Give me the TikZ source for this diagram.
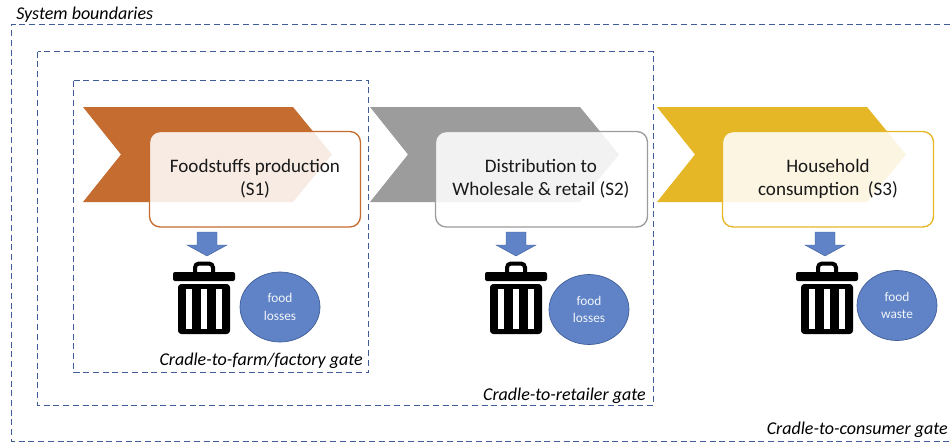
\documentclass[tikz,border=0pt]{standalone}
\usepackage{fontspec}
\setmainfont{Carlito}
\usetikzlibrary{shapes.geometric}
\definecolor{dashblue}{HTML}{3F5C98}
\definecolor{arrowblue}{HTML}{5F83C6}
\definecolor{orangeS}{HTML}{C56C30}
\definecolor{greyS}{HTML}{9C9C9C}
\definecolor{yellowS}{HTML}{E5B726}
\tikzset{
  gatebox/.style={draw=dashblue,line width=1.1pt,dash pattern=on 4.5pt off 2.8pt},
  stagebox/.style={draw=#1,line width=1pt,rounded corners=8pt,fill=white,fill opacity=0.87},
  stagetext/.style={font=\fontsize{14.3pt}{17.25pt}\selectfont,align=center,text=black!90},
  gatelabel/.style={font=\fontsize{13.5pt}{16pt}\selectfont\itshape,text=black,inner sep=0pt},
  lossnode/.style={ellipse,draw=dashblue,line width=0.5pt,fill=arrowblue,minimum width=60pt,minimum height=52.5pt,inner sep=0pt,align=center,text=white!92!arrowblue,font=\fontsize{10pt}{13pt}\selectfont},
  pics/chevron/.style={code={
    \fill[#1] (0,0) -- (210,0) -- (249,47.5) -- (210,95) -- (0,95) -- (38,47.5) -- cycle;
  }},
  pics/downarrow/.style={code={
    \fill[arrowblue,draw=dashblue,line width=0.3pt] (-10,0) -- (10,0) -- (10,13) -- (20,13) -- (0,24) -- (-20,13) -- (-10,13) -- cycle;
  }},
  pics/trashcan/.style={code={
    \fill[black,rounded corners=1.5pt] (-31,10) rectangle (31,19);
    \draw[black,line width=3pt,rounded corners=3pt] (-9,11) -- (-9,1.5) -- (9,1.5) -- (9,11);
    \fill[black,rounded corners=2.5pt] (-26,22) -- (26,22) -- (26,72) -- (-26,72) -- cycle;
    \fill[white] (-18,27) rectangle (-12,67);
    \fill[white] (-3,27) rectangle (3,67);
    \fill[white] (12,27) rectangle (18,67);
  }}
}
\begin{document}
\begin{tikzpicture}[x=0.75pt,y=-0.75pt]
\useasboundingbox (0,0) rectangle (950,443);
% gate boxes
\draw[gatebox] (950,24.5) -- (11.5,24.5) -- (11.5,441.5) -- (950,441.5);
\draw[gatebox] (37.5,51.5) rectangle (653.5,405.5);
\draw[gatebox] (73.5,80.5) rectangle (368.5,372.5);
% chevrons
\pic at (83,107) {chevron=orangeS};
\pic at (370,107) {chevron=greyS};
\pic at (657,107) {chevron=yellowS};
% stage boxes
\draw[stagebox=orangeS] (149.5,131.5) rectangle (360.5,227);
\draw[stagebox=greyS] (435.5,131.5) rectangle (647.5,227);
\draw[stagebox=yellowS] (722.5,131.5) rectangle (933.5,227);
\node[stagetext] (s1) at (255,179) {Foodstuffs production\\(S1)};
\node[stagetext] (s2) at (541,179) {Distribution to\\Wholesale \& retail (S2)};
\node[stagetext] (s3) at (828,179) {Household\\consumption\ \ (S3)};
% arrows
\pic at (207,232) {downarrow};
\pic at (516,232) {downarrow};
\pic at (825,232) {downarrow};
% bins
\pic at (204,262) {trashcan};
\pic at (516,262) {trashcan};
\pic at (827,262) {trashcan};
% ellipses
\node[lossnode] (l1) at (280,307) {food\\losses};
\node[lossnode] (l2) at (589,309.5) {food\\losses};
\node[lossnode] (l3) at (897,305.5) {food\\waste};
% labels
\node[gatelabel,anchor=west] (sb) at (16,15) {System boundaries};
\node[gatelabel,anchor=east] (g1) at (363,361) {Cradle-to-farm/factory gate};
\node[gatelabel,anchor=east] (g2) at (646,396) {Cradle-to-retailer gate};
\node[gatelabel,anchor=east] (g3) at (948,430) {Cradle-to-consumer gate};
\end{tikzpicture}
\end{document}
